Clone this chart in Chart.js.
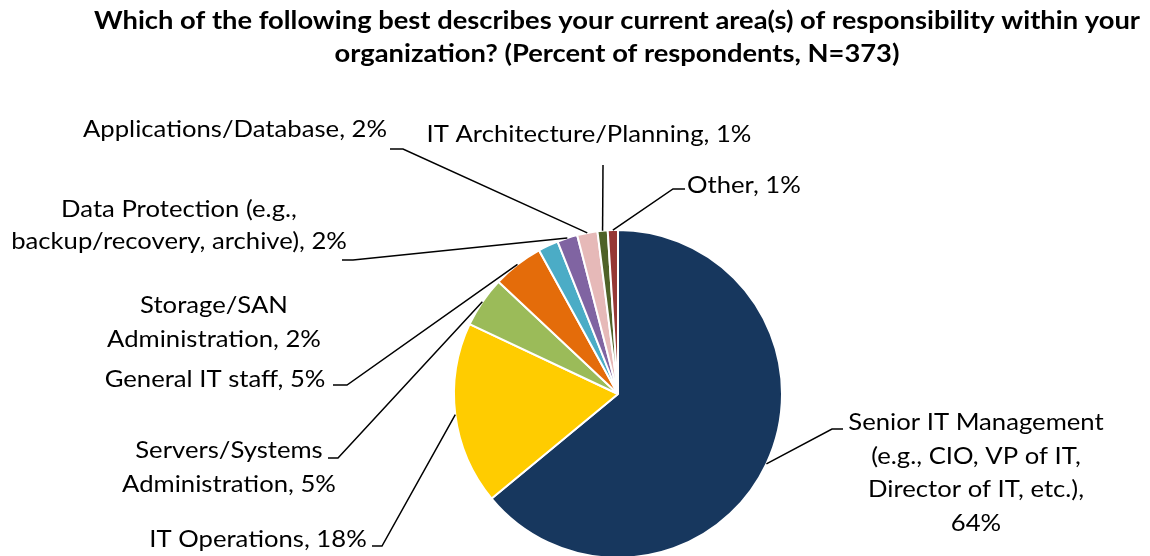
<!DOCTYPE html>
<html>
<head>
<meta charset="utf-8">
<script src="https://cdn.jsdelivr.net/npm/chart.js@4.4.1/dist/chart.umd.min.js"></script>
<style>
    html, body { margin: 0; padding: 0; overflow: hidden; background: #fff; }
    #wrap { position: relative; width: 1150px; height: 560px; }
</style>
</head>
<body>
<div id="wrap"><canvas id="myChart"></canvas></div>
<script>
// Chart data
const categories = [
    'Senior IT Management (e.g., CIO, VP of IT, Director of IT, etc.)',
    'IT Operations',
    'Servers/Systems Administration',
    'General IT staff',
    'Storage/SAN Administration',
    'Data Protection (e.g., backup/recovery, archive)',
    'Applications/Database',
    'IT Architecture/Planning',
    'Other'
];
const values = [64, 18, 5, 5, 2, 2, 2, 1, 1];
const colors = ['#17375E', '#FFCC00', '#9BBB59', '#E46C0A', '#4BACC6', '#8064A2', '#E6B9B8', '#4F6228', '#953735'];

// Wrapped label text, {v} is replaced by the value
const labelLines = [
    ['Senior IT Management', '(e.g., CIO, VP of IT,', 'Director of IT, etc.),', '{v}%'],
    ['IT Operations, {v}%'],
    ['Servers/Systems', 'Administration, {v}%'],
    ['General IT staff, {v}%'],
    ['Storage/SAN', 'Administration, {v}%'],
    ['Data Protection (e.g.,', 'backup/recovery, archive), {v}%'],
    ['Applications/Database, {v}%'],
    ['IT Architecture/Planning, {v}%'],
    ['Other, {v}%']
];

const titleLines = [
    'Which of the following best describes your current area(s) of responsibility within your',
    'organization? (Percent of respondents, N=373)'
];

// Label placement (x = anchor, y = first baseline, lh = line height)
// elbow/end describe the leader line after it leaves the slice
const labelLayout = [
    { x: 976, y: 430, lh: 33.5, align: 'center', elbow: [832, 429], end: [843, 429] },
    { x: 258, y: 547, lh: 33, align: 'center', elbow: [382, 546], end: [372, 546] },
    { x: 229, y: 458, lh: 34, align: 'center', elbow: [338, 458], end: [328, 458] },
    { x: 215, y: 387, lh: 33, align: 'center', elbow: [347, 385], end: [333, 385] },
    { x: 214, y: 313, lh: 34, align: 'center', elbow: null, end: null },
    { x: 179, y: 217, lh: 32, align: 'center', elbow: [353, 260], end: [342, 260] },
    { x: 235, y: 137, lh: 33, align: 'center', elbow: [403, 149], end: [390, 149] },
    { x: 589, y: 142, lh: 33, align: 'center', elbow: null, end: [603, 165] },
    { x: 687, y: 193, lh: 33, align: 'left', elbow: [673, 189], end: [685, 189] }
];

const labelFont = '24px Lato, "Open Sans", sans-serif';
const titleFont = 'bold 24px Lato, "Open Sans", sans-serif';

// Draw text squeezed horizontally by sx
function drawText(ctx, text, x, y, align, sx) {
    ctx.save();
    ctx.translate(x, y);
    ctx.scale(sx, 1);
    ctx.textAlign = align;
    ctx.textBaseline = 'alphabetic';
    ctx.fillText(text, 0, 0);
    ctx.restore();
}

const labelsPlugin = {
    id: 'pieLabels',
    afterDraw(chart) {
        const ctx = chart.ctx;
        const meta = chart.getDatasetMeta(0);

        // title
        ctx.save();
        ctx.fillStyle = '#000';
        ctx.font = titleFont;
        const titleScale = 1046 / ctx.measureText(titleLines[0]).width;
        drawText(ctx, titleLines[0], 617, 29, 'center', titleScale);
        drawText(ctx, titleLines[1], 617, 62, 'center', titleScale);

        // leader lines
        ctx.strokeStyle = '#000';
        ctx.lineWidth = 1.5;
        meta.data.forEach((arc, i) => {
            const lay = labelLayout[i];
            if (!lay.end) return;
            const p = arc.getProps(['x', 'y', 'startAngle', 'endAngle', 'outerRadius'], true);
            const mid = (p.startAngle + p.endAngle) / 2;
            const sx = p.x + Math.cos(mid) * p.outerRadius;
            const sy = p.y + Math.sin(mid) * p.outerRadius;
            ctx.beginPath();
            ctx.moveTo(sx, sy);
            if (lay.elbow) ctx.lineTo(lay.elbow[0], lay.elbow[1]);
            ctx.lineTo(lay.end[0], lay.end[1]);
            ctx.stroke();
        });

        // data labels
        ctx.font = labelFont;
        const labelScale = 304 / ctx.measureText('Applications/Database, 2%').width;
        labelLines.forEach((lines, i) => {
            const lay = labelLayout[i];
            lines.forEach((line, j) => {
                const text = line.replace('{v}', values[i]);
                drawText(ctx, text, lay.x, lay.y + j * lay.lh, lay.align, labelScale);
            });
        });
        ctx.restore();
    }
};

const ctx = document.getElementById('myChart').getContext('2d');
const myChart = new Chart(ctx, {
    type: 'pie',
    data: {
        labels: categories,
        datasets: [{
            data: values,
            backgroundColor: colors,
            borderColor: '#FFFFFF',
            borderWidth: 2,
            hoverOffset: 0
        }]
    },
    options: {
        responsive: true,
        maintainAspectRatio: false,
        animation: false,
        events: [],
        layout: {
            padding: { left: 453, right: 367, top: 229, bottom: 1 }
        },
        plugins: {
            legend: { display: false },
            tooltip: { enabled: false },
            title: { display: false }
        }
    },
    plugins: [labelsPlugin]
});
</script>
</body>
</html>
